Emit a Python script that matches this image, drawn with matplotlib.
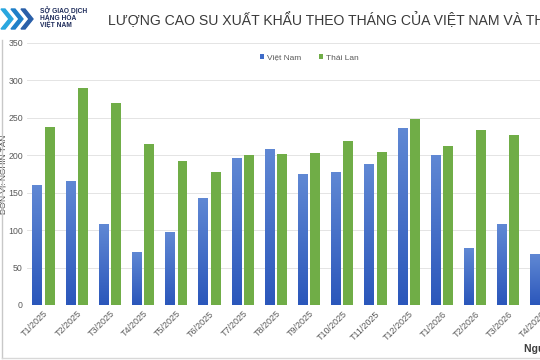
from matplotlib import use; use("Agg")
import matplotlib.pyplot as plt
from matplotlib.patches import Polygon
from matplotlib.colors import LinearSegmentedColormap
import numpy as np

plt.rcParams['font.family'] = ['Liberation Sans', 'DejaVu Sans']

months = ["T1/2025", "T2/2025", "T3/2025", "T4/2025", "T5/2025", "T6/2025",
          "T7/2025", "T8/2025", "T9/2025", "T10/2025", "T11/2025", "T12/2025",
          "T1/2026", "T2/2026", "T3/2026", "T4/2026"]
viet_nam = [160, 166, 108, 71, 97, 143, 197, 209, 175, 178, 188, 237,
            201, 76, 108, 68]
thai_lan = [238, 290, 270, 215, 193, 178, 201, 202, 203, 219, 205, 249,
            212, 234, 227, 200]

blue = "#3f6cc9"
green = "#70ad47"
gray = "#595959"

fig = plt.figure(figsize=(5.4, 3.6), dpi=100)
W, H = 540, 360
ax = fig.add_axes([27 / W, 55 / H, (558 - 27) / W, (305 - 43) / H])

x = np.arange(len(months))
bw = 0.3
vn_bars = ax.bar(x - 0.185, viet_nam, bw, color=blue, label="Việt Nam", zorder=3)
ax.bar(x + 0.185, thai_lan, bw, color=green, label="Thái Lan", zorder=3)

# blue bars: light at top, dark at bottom
grad = np.linspace(0, 1, 100).reshape(-1, 1)
cmap = LinearSegmentedColormap.from_list("vn", ["#2b57bb", "#6088d4"])
for b in vn_bars:
    bx, by = b.get_x(), b.get_y()
    im = ax.imshow(grad, cmap=cmap, aspect="auto", origin="lower",
                   extent=[bx, bx + b.get_width(), by, by + b.get_height()],
                   zorder=3.5)
    im.set_clip_path(b)

ax.set_xlim(-0.5, 15.5)
ax.set_ylim(0, 350)
ax.set_yticks(range(0, 351, 50))
ax.set_xticks(x)
ax.set_xticklabels(months, rotation=45, ha="right", rotation_mode="anchor")
ax.tick_params(axis="x", length=0, labelsize=6.5, labelcolor=gray, pad=3)
ax.tick_params(axis="y", length=0, labelsize=6.3, labelcolor=gray, pad=3)
ax.grid(axis="y", color="#e4e4e4", linewidth=0.7, zorder=0)
for s in ax.spines.values():
    s.set_visible(False)

ax.set_ylabel("ĐƠN VỊ: NGHÌN TẤN", fontsize=6, color="#404040")
ax.yaxis.set_label_coords(-0.037, 0.5)

ax.legend(loc="upper center", bbox_to_anchor=(0.532, 0.985), ncol=2, frameon=False,
          fontsize=6, labelcolor=gray, handlelength=0.45, handleheight=0.45,
          columnspacing=2.2, handletextpad=0.35)

fig.text(108 / W, 1 - 20 / H,
         "LƯỢNG CAO SU XUẤT KHẨU THEO THÁNG CỦA VIỆT NAM VÀ THÁI LAN",
         fontsize=10.1, color="#3a3a3a", ha="left", va="center")
fig.text(524 / W, 1 - 348 / H, "Nguồn: MXV", fontsize=7.5, color="#404040",
         fontweight="bold", ha="left", va="center")

# logo
for k in range(3):
    x0 = 1 + k * 10
    pts = [(x0 + 12, 19), (x0 + 4, 9), (x0, 9), (x0 + 8, 19),
           (x0, 29), (x0 + 4, 29)]
    fig.patches.append(Polygon([(px / W, 1 - py / H) for px, py in pts],
                               closed=True, transform=fig.transFigure,
                               color=["#2aa7df", "#1f7fc8", "#2a5fa8"][k]))
fig.text(40 / W, 1 - 18 / H, "SỞ GIAO DỊCH\nHÀNG HÓA\nVIỆT NAM", fontsize=4.8,
         color="#1d2b5a", fontweight="bold", ha="left", va="center", linespacing=1.0)

# frame lines from the screenshot
fig.add_artist(plt.Line2D([2 / W, 2 / W], [1 - 358 / H, 1 - 40 / H],
                          transform=fig.transFigure, color="#c8c8c8", lw=1))
fig.add_artist(plt.Line2D([2 / W, 1], [1 - 358 / H, 1 - 358 / H],
                          transform=fig.transFigure, color="#d8d8d8", lw=1))

fig.savefig("out.png", dpi=100)
